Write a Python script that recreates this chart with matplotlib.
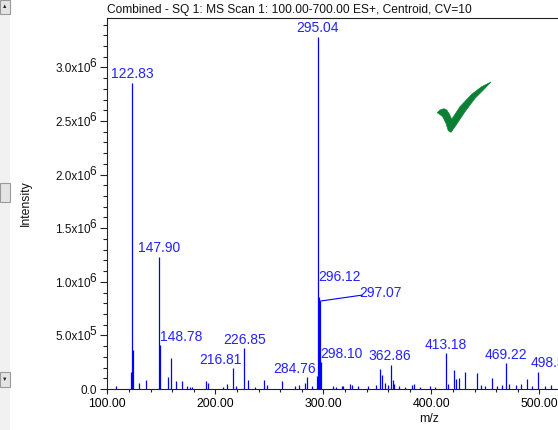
import matplotlib
matplotlib.use("Agg")
import matplotlib.pyplot as plt
from matplotlib.patches import Rectangle, Polygon
from matplotlib.ticker import MultipleLocator, FixedLocator, FixedFormatter

plt.rcParams['font.family'] = ['Liberation Sans', 'DejaVu Sans']

title = "Combined - SQ 1: MS Scan 1: 100.00-700.00 ES+, Centroid, CV=10"

# centroided spectrum: m/z and intensity (x1e6 counts)
mz = [107.8, 121.9, 122.83, 123.9, 129.6, 135.8, 147.90, 148.78, 156.5, 158.7,
      163.6, 169.4, 173.5, 176.5, 178.5, 191.1, 193.5, 207.4, 210.5, 216.81,
      219.5, 226.85, 229.9, 236.8, 245.0, 247.6, 262.0, 273.8, 277.5, 283.0,
      284.76, 289.3, 293.9, 295.04, 296.12, 297.07, 298.10, 309.0, 312.0, 317.0,
      318.5, 324.7, 326.2, 332.0, 341.7, 348.5, 352.5, 354.6, 357.0, 359.5,
      362.86, 364.3, 365.9, 370.5, 375.3, 381.8, 384.0, 389.5, 398.8, 403.5,
      413.18, 415.3, 421.2, 422.9, 426.0, 431.2, 441.9, 446.0, 450.0, 455.9,
      460.5, 465.0, 469.22, 471.5, 478.0, 483.5, 488.3, 493.0, 498.53, 505.0,
      511.0]
intensity = [0.03, 0.16, 2.855, 0.36, 0.06, 0.085, 1.234, 0.41, 0.115, 0.29,
             0.07, 0.07, 0.03, 0.02, 0.015, 0.07, 0.06, 0.02, 0.05, 0.196,
             0.03, 0.38, 0.08, 0.02, 0.085, 0.04, 0.075, 0.03, 0.04, 0.06,
             0.115, 0.03, 0.12, 3.287, 0.86, 0.82, 0.25, 0.03, 0.02, 0.03,
             0.03, 0.05, 0.04, 0.03, 0.03, 0.04, 0.19, 0.13, 0.06, 0.04,
             0.224, 0.08, 0.05, 0.03, 0.02, 0.04, 0.05, 0.02, 0.03, 0.02,
             0.34, 0.05, 0.18, 0.09, 0.10, 0.16, 0.15, 0.04, 0.03, 0.10,
             0.03, 0.04, 0.24, 0.05, 0.04, 0.05, 0.09, 0.03, 0.16, 0.03,
             0.04]

# peaks that get an m/z label
label_mz = [122.83, 147.90, 148.78, 216.81, 226.85, 284.76, 295.04, 296.12,
            297.07, 298.10, 362.86, 413.18, 469.22, 498.53]

ytick_vals = [0.0, 0.5, 1.0, 1.5, 2.0, 2.5, 3.0]
ytick_mant = ["0.0", "5.0x10", "1.0x10", "1.5x10", "2.0x10", "2.5x10", "3.0x10"]
ytick_exp = ["", "5", "6", "6", "6", "6", "6"]
xtick_vals = [100, 200, 300, 400, 500]

# label placement, pixels: (dx of text centre, baseline above peak top)
label_offsets = {
    122.83: (0, 5), 147.90: (0, 5), 148.78: (21, 4), 216.81: (-13, 4),
    226.85: (0, 4), 284.76: (-12, 4), 295.04: (0, 4.5), 296.12: (20, 16),
    297.07: (60, 4), 298.10: (20.5, 4), 362.86: (-1, 5), 413.18: (0, 4),
    469.22: (0, 4.5), 498.53: (14, 4.5),
}
leader_peaks = [297.07]

W, H = 558, 430
PT = 0.72  # points per pixel at 100 dpi
BLUE = '#0000ff'
TEXT_BLUE = '#2222ff'


def fx(px):
    return px / W


def fy(py):
    return 1 - py / H


fig = plt.figure(figsize=(W / 100, H / 100), dpi=100)

# scroll strip on the left edge of the window
fig.patches.append(Rectangle((0, 0), fx(10), 1, transform=fig.transFigure,
                             facecolor='#f1f1f1', edgecolor='none'))
for top, bot in [(0, 14), (183, 202), (372, 387)]:
    fig.patches.append(Rectangle((0, fy(bot)), fx(9.5), fy(top) - fy(bot),
                                 transform=fig.transFigure, facecolor='#e4e4e4',
                                 edgecolor='#9a9a9a', linewidth=0.8))
fig.text(fx(4.5), fy(7), '\u25b2', fontsize=4, ha='center', va='center', color='#222222')
fig.text(fx(4.5), fy(379.5), '\u25bc', fontsize=4, ha='center', va='center', color='#222222')

ax = fig.add_axes([fx(107.3), fy(389), 1 - fx(107.3), fy(17.5) - fy(389)])
ax.set_xlim(100, 100 + (W - 107.3) / 1.08)
ax.set_ylim(0, (389 - 17.5) / 107.2)

ax.vlines(mz, 0, intensity, colors=BLUE, linewidth=0.9)

peak_int = dict(zip(mz, intensity))
for m in label_mz:
    h = peak_int[m]
    dx, dy = label_offsets[m]
    ax.annotate(f"{m:.2f}", xy=(m, h), xytext=(dx * PT, dy * PT),
                textcoords='offset points', ha='center', va='baseline',
                fontsize=10, color=TEXT_BLUE)
    if m in leader_peaks:
        ax.annotate('', xy=(m, h), xytext=((dx - 18) * PT, (dy + 2) * PT),
                    textcoords='offset points',
                    arrowprops=dict(arrowstyle='-', color=BLUE, lw=0.8,
                                    shrinkA=0, shrinkB=0))

for side in ['left', 'bottom', 'top']:
    ax.spines[side].set_color('#222222')
    ax.spines[side].set_linewidth(0.8)
ax.spines['right'].set_visible(False)

ax.xaxis.set_major_locator(FixedLocator(xtick_vals))
ax.xaxis.set_major_formatter(FixedFormatter([f"{v:.2f}" for v in xtick_vals]))
ax.xaxis.set_minor_locator(MultipleLocator(20))
ax.tick_params(axis='x', which='major', direction='out', length=5 * PT, width=0.8,
               color='#222222', labelsize=8.8, pad=3)
ax.tick_params(axis='x', which='minor', direction='out', length=3 * PT, width=0.8,
               color='#222222')

ax.yaxis.set_major_locator(FixedLocator(ytick_vals))
ax.yaxis.set_minor_locator(MultipleLocator(0.1))
ax.tick_params(axis='y', which='major', direction='out', length=7 * PT, width=0.8,
               color='#222222', labelleft=False)
ax.tick_params(axis='y', which='minor', direction='out', length=4 * PT, width=0.8,
               color='#222222')

# y tick labels with full-size raised exponents
for v, mant, ex in zip(ytick_vals, ytick_mant, ytick_exp):
    if ex:
        ax.annotate(mant, xy=(0, v), xycoords=('axes fraction', 'data'),
                    xytext=(-16.2 * PT, -5 * PT), textcoords='offset points',
                    ha='right', va='baseline', fontsize=8.5, color='#111111')
        ax.annotate(ex, xy=(0, v), xycoords=('axes fraction', 'data'),
                    xytext=(-17.6 * PT, 0), textcoords='offset points',
                    ha='left', va='baseline', fontsize=8.5, color='#111111')
    else:
        ax.annotate(mant, xy=(0, v), xycoords=('axes fraction', 'data'),
                    xytext=(-10.6 * PT, -5 * PT), textcoords='offset points',
                    ha='right', va='baseline', fontsize=8.5, color='#111111')

fig.text(fx(107.3), fy(12.5), title, fontsize=8.65, ha='left', va='baseline', color='#111111')
fig.text(fx(26), fy(203), 'Intensity', fontsize=8.8, rotation=90,
         ha='center', va='center', color='#111111')
fig.text(fx(429), fy(422), 'm/z', fontsize=8.8, ha='center', va='baseline', color='#111111')

# green tick mark
check = [(437.3, 112.7), (440, 110), (444, 108.7), (446.7, 110), (449.3, 114),
         (451.7, 119.3), (460, 106.7), (471.7, 94.3), (481.7, 86.7), (491, 82),
         (485, 88.3), (475, 98.3), (465, 111.7), (455, 126.7), (451, 132.3),
         (448.3, 130.7), (446, 123.3), (442.7, 116.7), (439.3, 114)]
fig.patches.append(Polygon([(fx(x), fy(y)) for x, y in check], closed=True,
                           transform=fig.transFigure, facecolor='#0b8035',
                           edgecolor='#0b8035', linewidth=0.5))

fig.savefig('out.png', dpi=100)
